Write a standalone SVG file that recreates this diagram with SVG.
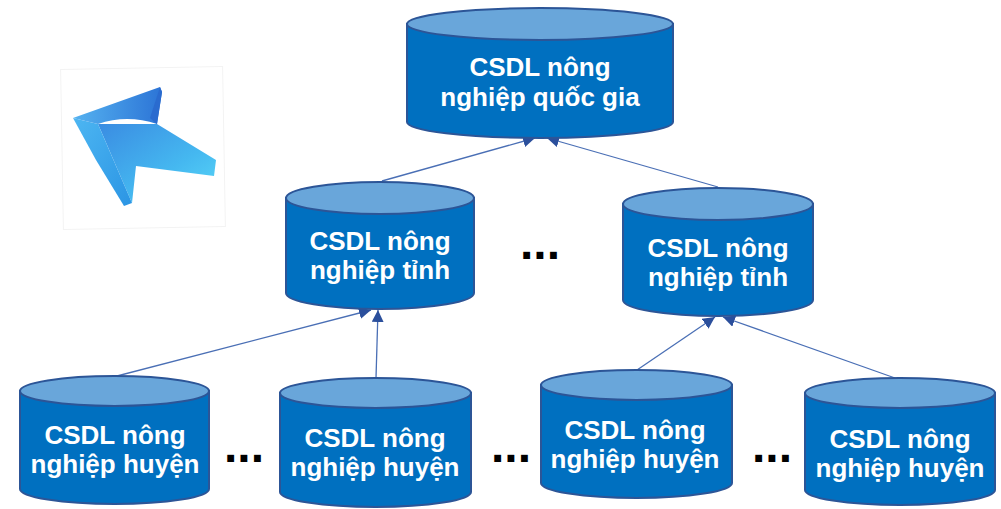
<svg xmlns="http://www.w3.org/2000/svg" width="1001" height="509" viewBox="0 0 1001 509">
  <defs>
    <style>
      .body { fill: #0070C0; stroke: #2C5597; stroke-width: 2; }
      .lid { fill: #69A6DA; stroke: #2C5597; stroke-width: 2; }
      .label { font-family: "Liberation Sans", Arial, sans-serif; font-weight: bold; font-size: 26px; fill: #FFFFFF; text-anchor: middle; }
      .dots { font-family: "Liberation Sans", Arial, sans-serif; font-weight: bold; font-size: 48px; fill: #000000; text-anchor: middle; }
      .link { stroke: #4A6FB5; stroke-width: 1.3; fill: none; marker-end: url(#head); }
    </style>
    <marker id="head" viewBox="0 0 12 12" refX="12" refY="6" markerWidth="12" markerHeight="12" markerUnits="userSpaceOnUse" orient="auto">
      <path d="M0,0 L12,6 L0,12 Z" fill="#2B4F9C"/>
    </marker>
    <linearGradient id="mainFace" x1="0" y1="0" x2="1" y2="1">
      <stop offset="0" stop-color="#3A8CE2"/>
      <stop offset="0.6" stop-color="#45B8F0"/>
      <stop offset="1" stop-color="#5AD8F8"/>
    </linearGradient>
    <linearGradient id="bandFace" x1="0" y1="0" x2="1" y2="0">
      <stop offset="0" stop-color="#55B2F0"/>
      <stop offset="1" stop-color="#2C74D6"/>
    </linearGradient>
    <linearGradient id="sideFace" x1="0" y1="0" x2="1" y2="1">
      <stop offset="0" stop-color="#4DB6F2"/>
      <stop offset="1" stop-color="#2B95E4"/>
    </linearGradient>
  </defs>

  <rect width="1001" height="509" fill="#FFFFFF"/>

  <!-- cursor arrow icon -->
  <g id="icon">
    <rect x="62" y="68" width="162" height="160" fill="#FFFFFF" stroke="#F3F3F3" stroke-width="1" transform="rotate(-1 143 148)"/>
    <polygon points="98,124 157,124 216,160 214,176 136,166 132,203" fill="url(#mainFace)"/>
    <polygon points="73,118 98,124 132,203 124,206 96,160" fill="url(#sideFace)"/>
    <path d="M73,118 L160,87 L162,92 L157,124 Q127,114 98,124 Z" fill="url(#bandFace)"/>
    <path d="M160,87 L162,92 L157,124 L150,118 Z" fill="#2A6BCF"/>
  </g>

  <!-- connectors -->
  <g id="connectors">
    <line class="link" x1="382" y1="181" x2="535" y2="138"/>
    <line class="link" x1="718" y1="187" x2="547" y2="138"/>
    <line class="link" x1="117" y1="376" x2="371" y2="310"/>
    <line class="link" x1="376" y1="378" x2="378" y2="310"/>
    <line class="link" x1="637" y1="370" x2="715" y2="317"/>
    <line class="link" x1="895" y1="378" x2="723" y2="317"/>
  </g>

  <g id="node-national">
    <path class="body" d="M407,24 V122 A133,16 0 0 0 673,122 V24 Z"/>
    <ellipse class="lid" cx="540" cy="24" rx="133" ry="16"/>
    <text class="label" x="540" y="76">CSDL nông</text>
    <text class="label" x="540" y="106">nghiệp quốc gia</text>
  </g>

  <g id="node-province-1">
    <path class="body" d="M286,198 V293 A94,16 0 0 0 474,293 V198 Z"/>
    <ellipse class="lid" cx="380" cy="198" rx="94" ry="16"/>
    <text class="label" x="380" y="250">CSDL nông</text>
    <text class="label" x="380" y="279">nghiệp tỉnh</text>
  </g>

  <g id="node-province-2">
    <path class="body" d="M623,204 V300 A95,16 0 0 0 813,300 V204 Z"/>
    <ellipse class="lid" cx="718" cy="204" rx="95" ry="16"/>
    <text class="label" x="718" y="257">CSDL nông</text>
    <text class="label" x="718" y="286">nghiệp tỉnh</text>
  </g>

  <g id="node-district-1">
    <path class="body" d="M20,391 V489 A94.5,15 0 0 0 209,489 V391 Z"/>
    <ellipse class="lid" cx="114.5" cy="391" rx="94.5" ry="15"/>
    <text class="label" x="115" y="444">CSDL nông</text>
    <text class="label" x="115" y="473">nghiệp huyện</text>
  </g>

  <g id="node-district-2">
    <path class="body" d="M280,393 V492 A95.5,15 0 0 0 471,492 V393 Z"/>
    <ellipse class="lid" cx="375.5" cy="393" rx="95.5" ry="15"/>
    <text class="label" x="375" y="447">CSDL nông</text>
    <text class="label" x="375" y="476">nghiệp huyện</text>
  </g>

  <g id="node-district-3">
    <path class="body" d="M541,385 V483 A95.5,15 0 0 0 732,483 V385 Z"/>
    <ellipse class="lid" cx="636.5" cy="385" rx="95.5" ry="15"/>
    <text class="label" x="635" y="439">CSDL nông</text>
    <text class="label" x="635" y="468">nghiệp huyện</text>
  </g>

  <g id="node-district-4">
    <path class="body" d="M805,393 V490 A95,15 0 0 0 995,490 V393 Z"/>
    <ellipse class="lid" cx="900" cy="393" rx="95" ry="15"/>
    <text class="label" x="900" y="448">CSDL nông</text>
    <text class="label" x="900" y="477">nghiệp huyện</text>
  </g>

  <!-- ellipses between siblings -->
  <g id="ellipses">
    <text class="dots" x="540" y="259">...</text>
    <text class="dots" x="244" y="462">...</text>
    <text class="dots" x="511" y="462">...</text>
    <text class="dots" x="772" y="462">...</text>
  </g>
</svg>
